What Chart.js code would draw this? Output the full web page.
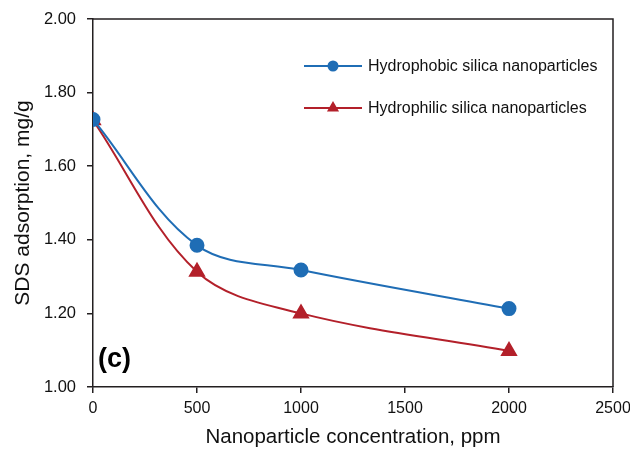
<!DOCTYPE html>
<html>
<head>
<meta charset="utf-8">
<script src="https://cdn.jsdelivr.net/npm/chart.js@4"></script>
<style>
html,body{margin:0;padding:0;background:#fff;}
#wrap{width:630px;height:450px;position:relative;}
</style>
</head>
<body>
<div id="wrap"><canvas id="c" width="630" height="450"></canvas></div>
<script>
const concentrations = [0, 500, 1000, 2000];
const hydrophobic = [1.727, 1.385, 1.318, 1.213];
const hydrophilic = [1.725, 1.313, 1.200, 1.098];
const seriesNames = ["Hydrophobic silica nanoparticles", "Hydrophilic silica nanoparticles"];
const xTicks = [0, 500, 1000, 1500, 2000, 2500];
const yTicks = [1.00, 1.20, 1.40, 1.60, 1.80, 2.00];
const panelLabel = "(c)";
const xTitle = "Nanoparticle concentration, ppm";
const yTitle = "SDS adsorption, mg/g";

const BLUE = "#1f6db5";
const RED = "#b3202a";
const AXIS = "#231f20";
const FONT = "'Liberation Sans', Arial, sans-serif";

function pts(vals){ return concentrations.map((x,i)=>({x:x,y:vals[i]})); }

const boxPlugin = {
  id:'box',
  afterDraw(chart){
    const {ctx, chartArea:a} = chart;
    ctx.save();
    ctx.strokeStyle = AXIS;
    ctx.lineWidth = 1.5;
    ctx.beginPath();
    ctx.moveTo(a.left, a.top); ctx.lineTo(a.right, a.top); ctx.lineTo(a.right, a.bottom);
    ctx.stroke();
    // panel label
    ctx.fillStyle = "#000";
    ctx.font = "bold 27px " + FONT;
    ctx.textBaseline = "alphabetic";
    ctx.textAlign = "left";
    ctx.fillText(panelLabel, a.left + 5, a.bottom - 20);
    // legend
    ctx.font = "16px " + FONT;
    ctx.textBaseline = "middle";
    const items = [{y:66, ds:0}, {y:108, ds:1}];
    items.forEach(it=>{
      const ds = chart.data.datasets[it.ds];
      ctx.strokeStyle = ds.borderColor;
      ctx.lineWidth = 2;
      ctx.beginPath(); ctx.moveTo(304, it.y); ctx.lineTo(362, it.y); ctx.stroke();
      ctx.fillStyle = ds.borderColor;
      if (ds.pointStyle === 'circle') {
        ctx.beginPath(); ctx.arc(333, it.y, 5.5, 0, Math.PI*2); ctx.fill();
      } else {
        const r = 7;
        ctx.beginPath();
        ctx.moveTo(333, it.y - r);
        ctx.lineTo(333 + r*0.866, it.y + r*0.5);
        ctx.lineTo(333 - r*0.866, it.y + r*0.5);
        ctx.closePath(); ctx.fill();
      }
      ctx.fillStyle = "#111";
      ctx.fillText(ds.label, 368, it.y + 1);
    });
    ctx.restore();
  }
};

new Chart(document.getElementById('c'), {
  type:'line',
  data:{
    datasets:[
      {label:seriesNames[0], data:pts(hydrophobic), borderColor:BLUE, backgroundColor:BLUE,
       pointStyle:'circle', pointRadius:6.5, pointHoverRadius:6.5, borderWidth:2, tension:0.35, fill:false},
      {label:seriesNames[1], data:pts(hydrophilic), borderColor:RED, backgroundColor:RED,
       pointStyle:'triangle', pointRadius:8, pointHoverRadius:8, borderWidth:2, tension:0.35, fill:false}
    ]
  },
  options:{
    responsive:false,
    animation:false,
    devicePixelRatio:1,
    layout:{padding:{left:0,right:17,top:19,bottom:0}},
    plugins:{legend:{display:false}, tooltip:{enabled:false}},
    scales:{
      x:{
        type:'linear', min:0, max:2500,
        afterBuildTicks(s){ s.ticks = xTicks.map(v=>({value:v})); },
        afterFit(s){ s.height = 63; s.paddingLeft = 0; s.paddingRight = 0; },
        grid:{drawOnChartArea:false, drawTicks:true, tickLength:6, color:AXIS, lineWidth:1.5},
        border:{color:AXIS, width:1.5},
        ticks:{color:"#111", font:{family:FONT, size:16}, padding:5.5, maxRotation:0,
               callback:v=>String(v)},
        title:{display:true, text:xTitle, color:"#111", font:{family:FONT, size:20.5}, padding:{top:0,bottom:0}}
      },
      y:{
        min:1, max:2,
        afterBuildTicks(s){ s.ticks = yTicks.map(v=>({value:v})); },
        afterFit(s){ s.width = 93; s.paddingTop = 0; s.paddingBottom = 0; },
        grid:{drawOnChartArea:false, drawTicks:true, tickLength:6, color:AXIS, lineWidth:1.5},
        border:{color:AXIS, width:1.5},
        ticks:{color:"#111", font:{family:FONT, size:16.5}, padding:11, callback:v=>Number(v).toFixed(2)},
        title:{display:true, text:yTitle, color:"#111", font:{family:FONT, size:21}, padding:{top:10.5,bottom:0}}
      }
    }
  },
  plugins:[boxPlugin]
});
</script>
</body>
</html>
